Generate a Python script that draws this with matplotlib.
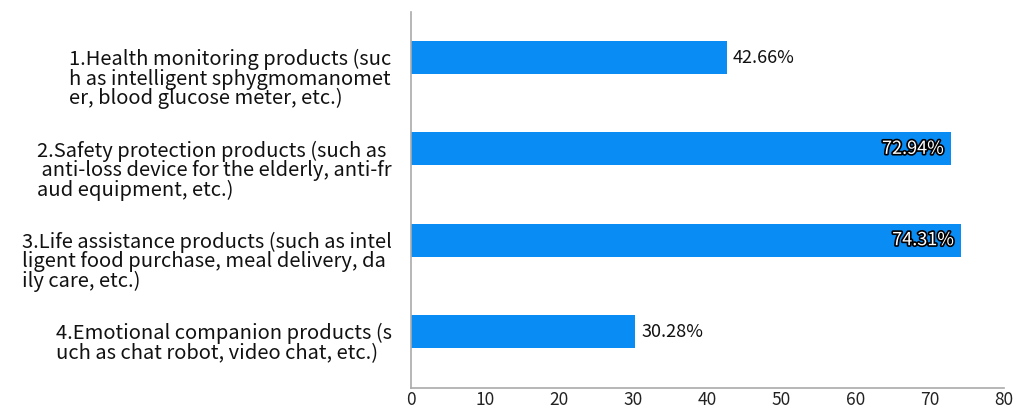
#!/usr/bin/env python3
import numpy as np
import matplotlib
matplotlib.use('Agg')
import matplotlib.pyplot as plt
import matplotlib.patheffects as pe

categories = [
  '1.Health monitoring products (suc\nh as intelligent sphygmomanomet\ner, blood glucose meter, etc.)',
  '2.Safety protection products (such as\n anti-loss device for the elderly, anti-fr\naud equipment, etc.)',
  '3.Life assistance products (such as intel\nligent food purchase, meal delivery, da\nily care, etc.)',
  '4.Emotional companion products (s\nuch as chat robot, video chat, etc.)',
]
values = [42.66, 72.94, 74.31, 30.28]
value_labels = ['42.66%', '72.94%', '74.31%', '30.28%']
xticks = [0, 10, 20, 30, 40, 50, 60, 70, 80]

plt.rcParams['font.family'] = ['Noto Sans CJK SC', 'DejaVu Sans']

fig = plt.figure(figsize=(10.21, 4.09), dpi=100)
ax = fig.add_axes([0.4025, 0.051, 0.5805, 0.920])

y = np.arange(len(categories))
ax.barh(y, values, height=0.36, color='#0a8cf5')
ax.set_ylim(3.62, -0.5)
ax.set_xlim(0, 80)

# category labels: first line sits level with the bar, the rest hangs below
ax.set_yticks(y)
ax.set_yticklabels([])
ax.tick_params(axis='y', length=0)
for i, cat in enumerate(categories):
  ax.annotate(cat, xy=(0, i), xycoords=('axes fraction', 'data'),
              xytext=(-14, 6), textcoords='offset points',
              ha='right', va='top', multialignment='left',
              fontsize=14.5, linespacing=0.9, color='#111111')

ax.set_xticks(xticks)
ax.set_xticklabels([str(t) for t in xticks], fontsize=12.5, color='#222222')
ax.tick_params(axis='x', length=0, pad=2)

for s in ['top', 'right']:
  ax.spines[s].set_visible(False)
ax.spines['left'].set_color('#aaaaaa')
ax.spines['bottom'].set_color('#aaaaaa')
ax.spines['left'].set_linewidth(1.2)
ax.spines['bottom'].set_linewidth(1.2)

for i, (v, lab) in enumerate(zip(values, value_labels)):
  if v > 60:
    ax.text(v - 1, i, lab, ha='right', va='center', fontsize=13, color='white',
            path_effects=[pe.withStroke(linewidth=2.4, foreground='black')])
  else:
    ax.text(v + 0.8, i, lab, ha='left', va='center', fontsize=13, color='#111111')

plt.savefig('out.png', dpi=100)
